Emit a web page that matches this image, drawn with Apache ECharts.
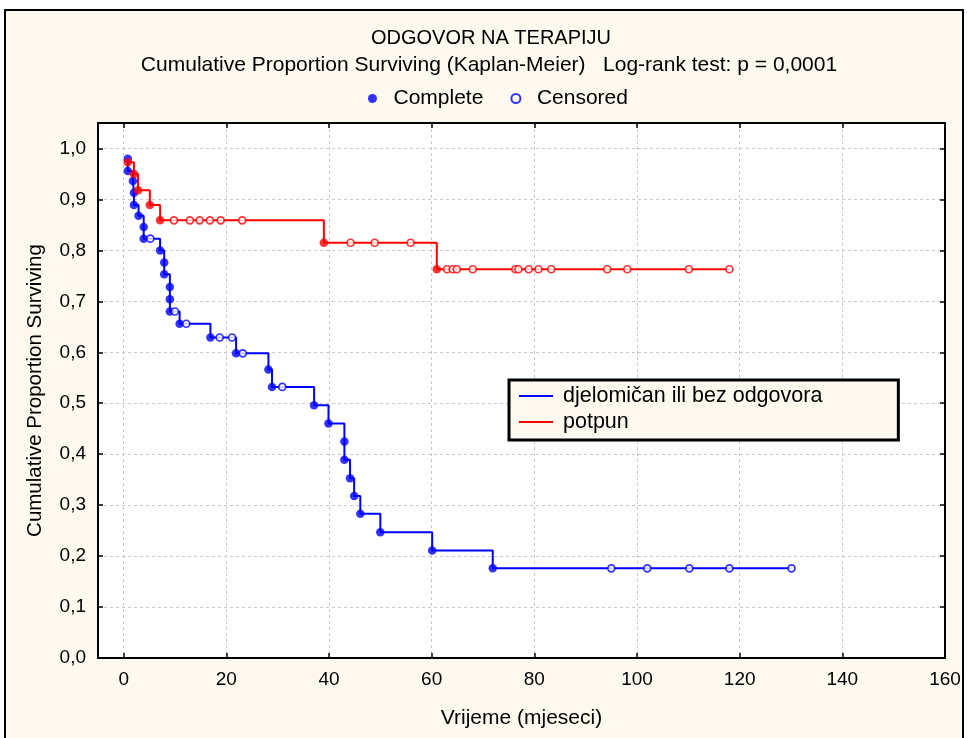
<!DOCTYPE html>
<html>
<head>
<meta charset="utf-8">
<script src="https://cdn.jsdelivr.net/npm/echarts@6/dist/echarts.min.js"></script>
<style>html,body{margin:0;padding:0;background:#fff;}#main{width:967px;height:738px;}</style>
</head>
<body>
<div id="main"></div>
<script>
// ---- data ----
const xTicks = [0, 20, 40, 60, 80, 100, 120, 140, 160];

// group "djelomičan ili bez odgovora" (blue): time, survival, censored flag
const blueT = [0.8,0.8,1.8,2.0,2.0,2.9,3.9,3.9,5.2,7.1,7.9,7.9,9.0,9.0,9.0,10.0,10.9,12.2,16.9,18.7,21.1,21.9,23.2,28.2,28.9,30.9,37.1,39.9,43.0,43.0,44.1,44.9,46.1,50.0,60.1,71.9,95.0,102.0,110.2,118.0,130.1];
const blueS = [0.980,0.956,0.936,0.913,0.889,0.868,0.846,0.823,0.823,0.800,0.776,0.753,0.728,0.704,0.680,0.680,0.656,0.656,0.629,0.629,0.629,0.598,0.598,0.566,0.532,0.532,0.496,0.460,0.425,0.389,0.353,0.318,0.283,0.247,0.211,0.176,0.176,0.176,0.176,0.176,0.176];
const blueC = [0,0,0,0,0,0,0,0,1,0,0,0,0,0,0,1,0,1,0,1,1,0,1,0,0,1,0,0,0,0,0,0,0,0,0,0,1,1,1,1,1];

// group "potpun" (red)
const redT = [0.8,2.0,2.8,5.1,7.1,9.8,12.9,14.8,16.8,18.9,23.1,39.0,44.2,48.9,55.9,61.0,63.0,64.1,64.9,68.0,76.3,76.9,78.9,80.8,83.3,94.2,98.1,110.1,118.0];
const redS = [0.973,0.950,0.918,0.889,0.859,0.859,0.859,0.859,0.859,0.859,0.859,0.815,0.815,0.815,0.815,0.763,0.763,0.763,0.763,0.763,0.763,0.763,0.763,0.763,0.763,0.763,0.763,0.763,0.763];
const redC = [0,0,0,0,0,1,1,1,1,1,1,0,1,1,1,0,1,1,1,1,1,1,1,1,1,1,1,1,1];

const groupNames = ['djelomičan ili bez odgovora', 'potpun'];
const markerNames = ['Complete', 'Censored'];

// ---- build ----
const FONT = 'Liberation Sans, Arial, Helvetica, sans-serif';
const BLUE = '#0000ff', RED = '#ff0000', CREAM = '#fdf9ee';

function pts(T, S) { return T.map((t, i) => [t, S[i]]); }
function pick(T, S, C, flag) { const r = []; T.forEach((t, i) => { if (C[i] === flag) r.push([t, S[i]]); }); return r; }

const fmtY = v => (v > 1.0001 ? '' : v.toFixed(1).replace('.', ','));

const lineSeries = (name, T, S, color) => ({
  name, type: 'line', step: 'end', data: pts(T, S), color,
  showSymbol: false, symbol: 'none', lineStyle: { color, width: 2 }, z: 2, silent: true
});
const evSeries = (T, S, C, color) => ({
  name: markerNames[0], type: 'scatter', data: pick(T, S, C, 0), symbol: 'circle', symbolSize: 8.5,
  itemStyle: { color }, z: 3, silent: true
});
const ceSeries = (T, S, C, color) => ({
  name: markerNames[1], type: 'scatter', data: pick(T, S, C, 1), symbol: 'circle', symbolSize: 7,
  itemStyle: { color: '#ffffff', borderColor: color, borderWidth: 1.7 }, z: 4, silent: true
});

const axisLine = { show: true, onZero: false, lineStyle: { color: '#000', width: 2 } };
const tickStyle = { color: '#000', width: 1.5 };

const option = {
  animation: false,
  backgroundColor: '#ffffff',
  textStyle: { fontFamily: FONT, color: '#000' },
  graphic: { elements: [{
    type: 'rect', z: -100, silent: true,
    shape: { x: 5, y: 10, width: 958, height: 740 },
    style: { fill: CREAM, stroke: '#000', lineWidth: 2 }
  }]},
  title: [
    { text: 'ODGOVOR NA TERAPIJU', left: 491, top: 28, textAlign: 'center', padding: 0,
      textStyle: { fontFamily: FONT, fontSize: 20, fontWeight: 'normal', color: '#000' } },
    { text: 'Cumulative Proportion Surviving (Kaplan-Meier)   Log-rank test: p = 0,0001', left: 489, top: 55, textAlign: 'center', padding: 0,
      textStyle: { fontFamily: FONT, fontSize: 21, fontWeight: 'normal', color: '#000' } }
  ],
  legend: [
    { data: markerNames, left: 368, top: 88, icon: 'circle', itemWidth: 32, itemHeight: 9, itemGap: 27,
      padding: 0, selectedMode: false,
      textStyle: { fontFamily: FONT, fontSize: 21, color: '#000' } },
    { data: groupNames, orient: 'vertical', left: 509, top: 380, icon: 'rect', itemWidth: 34, itemHeight: 2,
      itemGap: 4, padding: [5, 76, 7, 10], backgroundColor: CREAM, borderColor: '#000', borderWidth: 3,
      selectedMode: false,
      textStyle: { fontFamily: FONT, fontSize: 21.5, color: '#000', lineHeight: 22, padding: [0, 0, 0, 5] } }
  ],
  grid: { left: 98, top: 123, right: 22, bottom: 80, show: true, backgroundColor: '#ffffff', borderWidth: 0 },
  xAxis: [
    { type: 'value', min: -5, max: 160, position: 'bottom',
      axisLine, axisTick: { show: true, inside: true, length: 5, lineStyle: tickStyle, customValues: xTicks },
      axisLabel: { customValues: xTicks, color: '#000', fontFamily: FONT, fontSize: 19, margin: 12 },
      splitLine: { show: true, lineStyle: { type: [3, 3], color: '#c8c8c8', width: 1 } },
      name: 'Vrijeme (mjeseci)', nameLocation: 'middle', nameGap: 50,
      nameTextStyle: { fontFamily: FONT, fontSize: 21, color: '#000' } },
    { type: 'value', min: -5, max: 160, position: 'top',
      axisLine, axisTick: { show: true, inside: true, length: 5, lineStyle: tickStyle, customValues: xTicks },
      axisLabel: { show: false }, splitLine: { show: false } }
  ],
  yAxis: [
    { type: 'value', min: 0, max: 1.05, interval: 0.1, position: 'left',
      axisLine, axisTick: { show: true, inside: true, length: 5, lineStyle: tickStyle },
      axisLabel: { formatter: fmtY, color: '#000', fontFamily: FONT, fontSize: 19, margin: 12 },
      splitLine: { show: true, lineStyle: { type: [3, 3], color: '#c8c8c8', width: 1 } },
      name: 'Cumulative Proportion Surviving', nameLocation: 'middle', nameGap: 52,
      nameTextStyle: { fontFamily: FONT, fontSize: 20.5, color: '#000' } },
    { type: 'value', min: 0, max: 1.05, interval: 0.1, position: 'right',
      axisLine, axisTick: { show: true, inside: true, length: 5, lineStyle: tickStyle },
      axisLabel: { show: false }, splitLine: { show: false } }
  ],
  series: [
    lineSeries(groupNames[0], blueT, blueS, BLUE),
    lineSeries(groupNames[1], redT, redS, RED),
    evSeries(blueT, blueS, blueC, BLUE),
    ceSeries(blueT, blueS, blueC, BLUE),
    evSeries(redT, redS, redC, RED),
    ceSeries(redT, redS, redC, RED)
  ]
};

const chart = echarts.init(document.getElementById('main'), null, { renderer: 'canvas' });
chart.setOption(option);
</script>
</body>
</html>
